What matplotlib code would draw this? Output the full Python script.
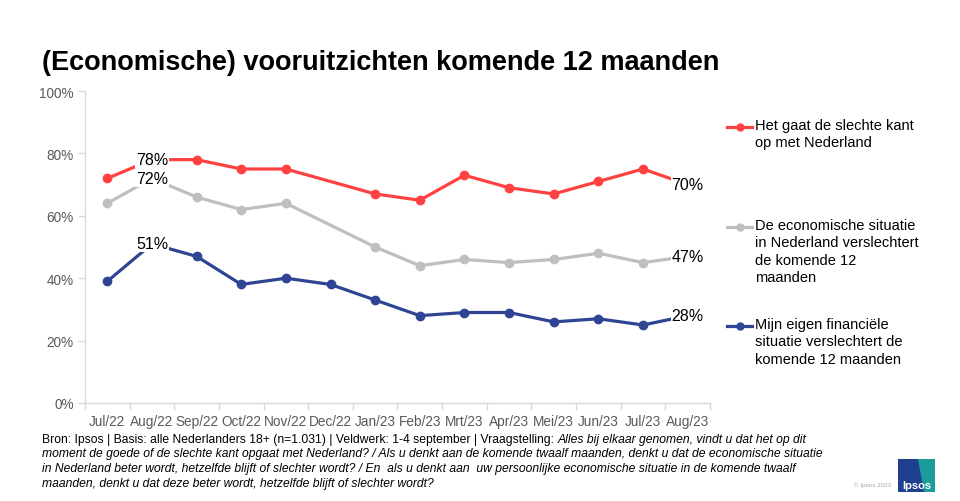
import numpy as np
import matplotlib
matplotlib.use('Agg')
import matplotlib.pyplot as plt
from matplotlib.lines import Line2D
from matplotlib.patches import Rectangle, Polygon

plt.rcParams['font.family'] = ['Liberation Sans', 'DejaVu Sans']

months = ['Jul/22', 'Aug/22', 'Sep/22', 'Oct/22', 'Nov/22', 'Dec/22', 'Jan/23',
          'Feb/23', 'Mrt/23', 'Apr/23', 'Mei/23', 'Jun/23', 'Jul/23', 'Aug/23']
slechte_kant = [72, 78, 78, 75, 75, np.nan, 67, 65, 73, 69, 67, 71, 75, 70]
economie = [64, 72, 66, 62, 64, np.nan, 50, 44, 46, 45, 46, 48, 45, 47]
eigen_fin = [39, 51, 47, 38, 40, 38, 33, 28, 29, 29, 26, 27, 25, 28]

labels = ['Het gaat de slechte kant\nop met Nederland',
          'De economische situatie\nin Nederland verslechtert\nde komende 12\nmaanden',
          'Mijn eigen financiële\nsituatie verslechtert de\nkomende 12 maanden']
colors = ['#FF4141', '#BFBFBF', '#2F4594']
series = [slechte_kant, economie, eigen_fin]

fig = plt.figure(figsize=(9.6, 5.02), dpi=100)
ax = fig.add_axes([85 / 960, 98 / 502, 625 / 960, 312 / 502])

x = np.arange(len(months))
for vals, col in zip(series, colors):
    v = np.array(vals, dtype=float)
    ok = ~np.isnan(v)
    ax.plot(x[ok], v[ok], color=col, lw=2.3, marker='o', ms=6, zorder=2)
    # labels for Aug/22 and the last month
    for i in (1, len(months) - 1):
        ax.text(x[i], v[i], '%d%%' % v[i], ha='center', va='center', fontsize=11.5,
                color='black', zorder=3,
                bbox=dict(boxstyle='square,pad=0.05', fc='white', ec='none'))

ax.set_xlim(-0.5, len(months) - 0.5)
ax.set_ylim(0, 100)
ax.set_yticks(range(0, 101, 20))
ax.set_yticklabels(['%d%%' % t for t in range(0, 101, 20)])
ax.set_xticks(x)
ax.set_xticklabels(months)
ax.set_xticks(np.arange(-0.5, len(months)), minor=True)
ax.tick_params(axis='x', which='major', length=0, pad=8)
ax.tick_params(axis='x', which='minor', length=5, color='#D9D9D9', width=1)
ax.tick_params(axis='y', length=5, color='#D9D9D9', width=1, pad=3)
ax.tick_params(labelsize=9.8, labelcolor='#595959')
for s in ('top', 'right'):
    ax.spines[s].set_visible(False)
for s in ('left', 'bottom'):
    ax.spines[s].set_color('#D9D9D9')
    ax.spines[s].set_linewidth(1)

fig.text(42 / 960, 1 - 63 / 502, '(Economische) vooruitzichten komende 12 maanden',
         fontsize=19.5, fontweight='bold', va='center', ha='left')

# legend
leg_y = [128, 228, 327]
for lab, col, yy in zip(labels, colors, leg_y):
    yf = 1 - yy / 502
    fig.add_artist(Line2D([727 / 960, 752 / 960], [yf, yf], color=col, lw=2.3,
                          transform=fig.transFigure))
    fig.add_artist(Line2D([739.5 / 960], [yf], color=col, marker='o', ms=5,
                          transform=fig.transFigure))
    fig.text(755 / 960, yf + 9 / 502, lab, fontsize=10.5, va='top', ha='left',
             linespacing=1.3)

# footer
fs = 8.7
t = fig.text(42 / 960, 1 - 440 / 502,
             'Bron: Ipsos | Basis: alle Nederlanders 18+ (n=1.031) | Veldwerk: 1-4 september | Vraagstelling: ',
             fontsize=fs, va='center', ha='left')
fig.canvas.draw()
bb = t.get_window_extent()
fig.text(bb.x1 / 960, 1 - 440 / 502,
         'Alles bij elkaar genomen, vindt u dat het op dit',
         fontsize=fs, va='center', ha='left', style='italic')
fig.text(42 / 960, 1 - 448.5 / 502,
         'moment de goede of de slechte kant opgaat met Nederland? / Als u denkt aan de komende twaalf maanden, denkt u dat de economische situatie\n'
         'in Nederland beter wordt, hetzelfde blijft of slechter wordt? / En  als u denkt aan  uw persoonlijke economische situatie in de komende twaalf\n'
         'maanden, denkt u dat deze beter wordt, hetzelfde blijft of slechter wordt?',
         fontsize=fs, va='top', ha='left', style='italic', linespacing=1.28)

fig.text(873 / 960, 1 - 485 / 502, '© Ipsos 2023', fontsize=4.5, color='#A6A6A6',
         ha='center', va='center')

# logo
fig.add_artist(Rectangle((898 / 960, 1 - 493 / 502), 37 / 960, 33 / 502,
                         transform=fig.transFigure, fc='#1F3F8F', ec='none'))
fig.add_artist(Polygon([(918 / 960, 1 - 460 / 502), (935 / 960, 1 - 460 / 502),
                        (935 / 960, 1 - 493 / 502), (924 / 960, 1 - 493 / 502)],
                       closed=True, transform=fig.transFigure, fc='#1A9C9A', ec='none'))
fig.text(916.5 / 960, 1 - 486 / 502, 'Ipsos', fontsize=8, fontweight='bold', color='white',
         ha='center', va='center')

fig.savefig('out.png', dpi=100)
